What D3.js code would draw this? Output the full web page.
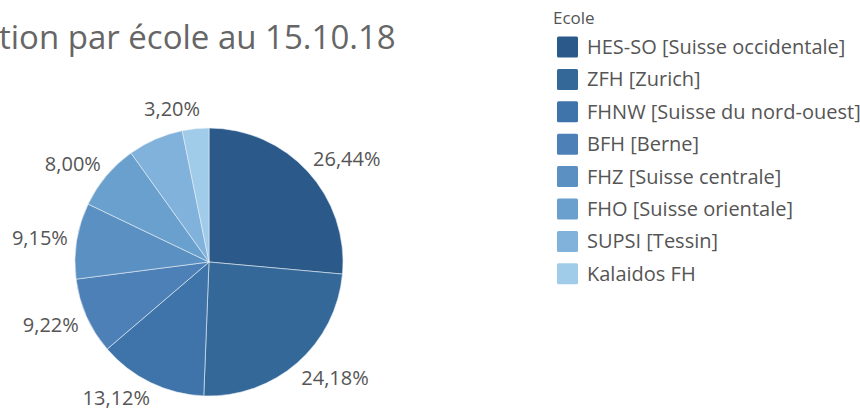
<!DOCTYPE html>
<html>
<head>
<meta charset="utf-8">
<script src="https://d3js.org/d3.v7.min.js"></script>
<style>
  body { margin: 0; background: white; }
  text { font-family: "Open Sans", sans-serif; }
</style>
</head>
<body>
<div id="container"></div>
<script>
let w = 860;
let h = 409;

// data
let ecoles = ["HES-SO [Suisse occidentale]", "ZFH [Zurich]", "FHNW [Suisse du nord-ouest]", "BFH [Berne]",
  "FHZ [Suisse centrale]", "FHO [Suisse orientale]", "SUPSI [Tessin]", "Kalaidos FH"];
let parts = [26.44, 24.18, 13.12, 9.22, 9.15, 8.00, 6.69, 3.20];
let hiddenLabels = ["SUPSI [Tessin]"]; // label not shown in the original
let colors = ["#2b5a8a", "#336899", "#3e74a9", "#4c80b6", "#5a90c2", "#69a0cd", "#80b2db", "#a0cbe9"];
let titre = "tion par école au 15.10.18";

let viz = d3.select("#container")
  .append("svg")
    .attr("width", w)
    .attr("height", h)
    .style("background-color", "white");

let ColorScale = d3.scaleOrdinal().domain(ecoles).range(colors);

// title (cut at the left like the original)
viz.append("text")
  .attr("x", -1)
  .attr("y", 49)
  .attr("font-size", 33)
  .attr("fill", "#666")
  .text(titre);

// pie
let cx = 209, cy = 262, r = 134;
let pie = d3.pie().sort(null).value(d => d.v);
let arc = d3.arc().innerRadius(0).outerRadius(r);
let data = ecoles.map((e, i) => ({ e: e, v: parts[i] }));
let arcs = pie(data);

let g = viz.append("g").attr("transform", "translate(" + cx + "," + cy + ")");
g.selectAll("path")
  .data(arcs)
  .enter()
  .append("path")
  .attr("d", arc)
  .attr("fill", d => ColorScale(d.data.e))
  .attr("stroke", "#e8eef5")
  .attr("stroke-width", 0.6);

// labels outside the circle, anchored by side
g.selectAll("text.lab")
  .data(arcs.filter(d => hiddenLabels.indexOf(d.data.e) < 0))
  .enter()
  .append("text")
  .attr("class", "lab")
  .attr("font-size", 20)
  .attr("fill", "#555")
  .attr("dominant-baseline", "central")
  .text(d => d.data.v.toFixed(2).replace(".", ",") + "%")
  .each(function(d) {
    let a = (d.startAngle + d.endAngle) / 2;
    let ux = Math.sin(a), uy = -Math.cos(a);
    let R = r + 15;
    let right = ux > 0;
    d3.select(this)
      .attr("text-anchor", right ? "start" : "end")
      .attr("x", ux * R + (right ? -6 : 6))
      .attr("y", Math.min(uy * R + uy * 5, h - 12 - cy));
  });

// legend
let leg = viz.append("g");
leg.append("text")
  .attr("x", 553)
  .attr("y", 24)
  .attr("font-size", 17)
  .attr("fill", "#555")
  .text("Ecole");

let rowY = d3.scaleLinear().domain([0, 1]).range([47, 79.4]);
let items = leg.selectAll("g.item")
  .data(ecoles)
  .enter()
  .append("g")
  .attr("class", "item")
  .attr("transform", (d, i) => "translate(0," + rowY(i) + ")");
items.append("rect")
  .attr("x", 557)
  .attr("y", -10.5)
  .attr("width", 21)
  .attr("height", 21)
  .attr("rx", 1.5)
  .attr("fill", d => ColorScale(d));
items.append("text")
  .attr("x", 587)
  .attr("y", 7)
  .attr("font-size", 20)
  .attr("fill", "#555")
  .text(d => d);
</script>
</body>
</html>
